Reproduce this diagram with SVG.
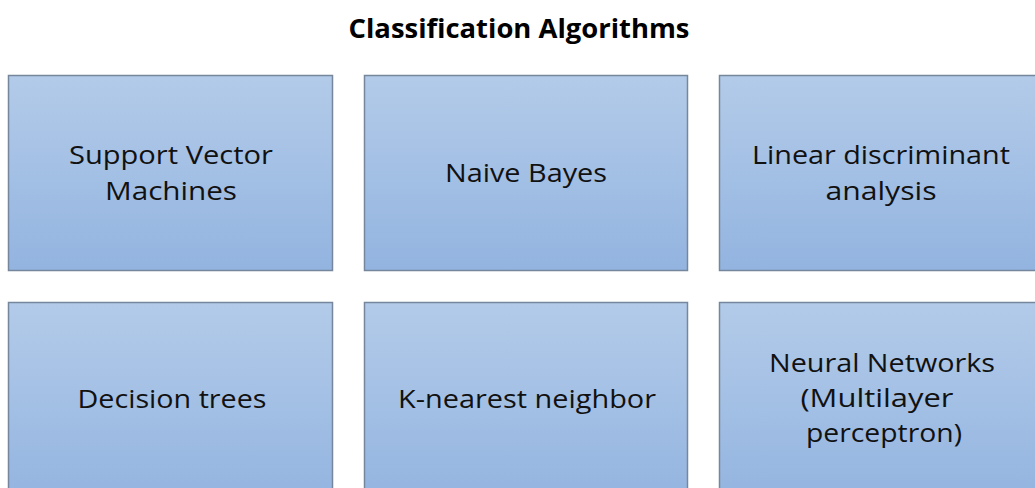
<svg xmlns="http://www.w3.org/2000/svg" width="1035" height="488" viewBox="0 0 1035 488">
<defs>
<linearGradient id="g" x1="0" y1="0" x2="0" y2="1">
<stop offset="0" stop-color="#b3cbe9"/>
<stop offset="1" stop-color="#93b4e0"/>
</linearGradient>
<style>
.box{fill:url(#g);stroke:#75869d;stroke-width:1.5}
.t{font-family:"Open Sans","Liberation Sans",Arial,sans-serif;font-size:26px;fill:#111;text-anchor:middle}
.title{font-family:"Open Sans","Liberation Sans",Arial,sans-serif;font-size:27px;font-weight:bold;fill:#000;text-anchor:middle}
</style>
</defs>
<rect width="1035" height="488" fill="#fff"/>
<text class="title" x="519" y="38" textLength="341" lengthAdjust="spacingAndGlyphs">Classification Algorithms</text>
<g id="svm"><rect class="box" x="8.5" y="75.5" width="324" height="195"/><text class="t" x="171" y="164" textLength="204" lengthAdjust="spacingAndGlyphs">Support Vector</text><text class="t" x="171" y="200" textLength="132" lengthAdjust="spacingAndGlyphs">Machines</text></g>
<g id="nb"><rect class="box" x="364.5" y="75.5" width="323" height="195"/><text class="t" x="526" y="182" textLength="162" lengthAdjust="spacingAndGlyphs">Naive Bayes</text></g>
<g id="lda"><rect class="box" x="719.5" y="75.5" width="330" height="195"/><text class="t" x="881" y="164" textLength="258" lengthAdjust="spacingAndGlyphs">Linear discriminant</text><text class="t" x="881" y="200" textLength="111" lengthAdjust="spacingAndGlyphs">analysis</text></g>
<g id="dt"><rect class="box" x="8.5" y="302.5" width="324" height="200"/><text class="t" x="172" y="408" textLength="189" lengthAdjust="spacingAndGlyphs">Decision trees</text></g>
<g id="knn"><rect class="box" x="364.5" y="302.5" width="323" height="200"/><text class="t" x="527" y="408" textLength="258" lengthAdjust="spacingAndGlyphs">K-nearest neighbor</text></g>
<g id="nn"><rect class="box" x="719.5" y="302.5" width="330" height="200"/><text class="t" x="882" y="372" textLength="226" lengthAdjust="spacingAndGlyphs">Neural Networks</text><text class="t" x="877" y="407" textLength="153" lengthAdjust="spacingAndGlyphs">(Multilayer</text><text class="t" x="884" y="442" textLength="156" lengthAdjust="spacingAndGlyphs">perceptron)</text></g>
<g id="connectors"/>
</svg>
